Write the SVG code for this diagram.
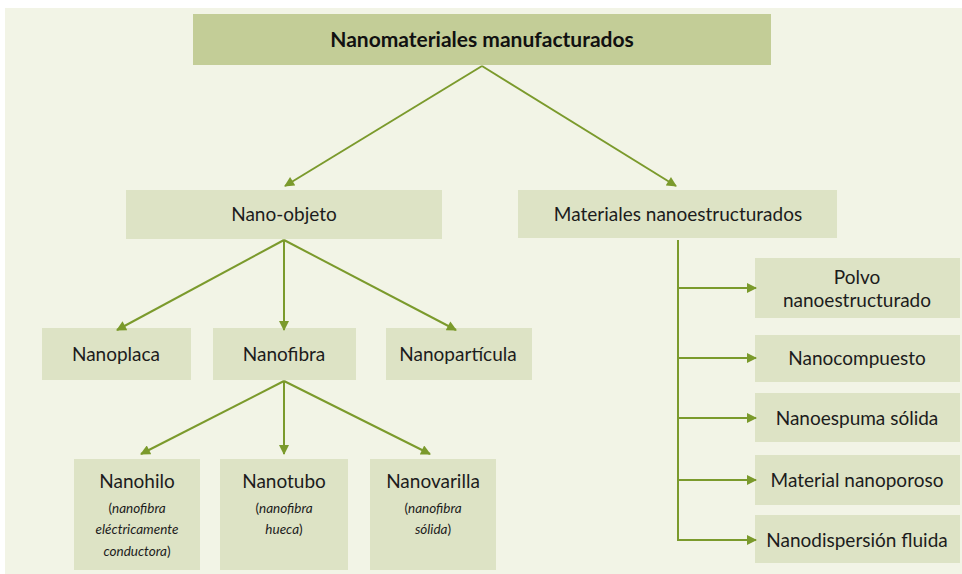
<svg xmlns="http://www.w3.org/2000/svg" width="962" height="574" viewBox="0 0 962 574">
<defs>
<marker id="ah" viewBox="0 0 10 10" refX="9" refY="5" markerWidth="11" markerHeight="10" markerUnits="userSpaceOnUse" orient="auto">
<path d="M0,0 L10,5 L0,10 z" fill="#7b9a2c"/>
</marker>
<style>
.bg{fill:#f2f4e6}
.box{fill:#dde3c5}
.top{fill:#c3cd97}
.t{font-family:Lato,"Open Sans","Liberation Sans",sans-serif;font-size:19px;fill:#1c1c1c;text-anchor:middle}
.tb{font-family:Lato,"Open Sans","Liberation Sans",sans-serif;font-size:21px;font-weight:bold;fill:#111;text-anchor:middle}
.ti{font-family:Lato,"Open Sans","Liberation Sans",sans-serif;font-size:13.5px;font-style:italic;fill:#1c1c1c;text-anchor:middle}
.c{stroke:#7b9a2c;stroke-width:2;fill:none}
.ca{stroke:#7b9a2c;stroke-width:2;fill:none;marker-end:url(#ah)}
</style>
</defs>
<rect x="0" y="0" width="962" height="574" fill="#ffffff"/>
<rect class="bg" x="5" y="8" width="957" height="566"/>

<g id="n-root">
<rect class="top" x="193" y="14" width="578" height="51"/>
<text class="tb" x="482" y="47">Nanomateriales manufacturados</text>
</g>
<g id="n-nanoobjeto">
<rect class="box" x="126" y="190" width="316" height="49"/>
<text class="t" x="284" y="221">Nano-objeto</text>
</g>
<g id="n-materiales">
<rect class="box" x="518" y="190" width="319" height="48"/>
<text class="t" x="678" y="221">Materiales nanoestructurados</text>
</g>
<g id="n-nanoplaca">
<rect class="box" x="42" y="328" width="149" height="52"/>
<text class="t" x="116" y="361">Nanoplaca</text>
</g>
<g id="n-nanofibra">
<rect class="box" x="213" y="328" width="143" height="52"/>
<text class="t" x="284" y="361">Nanofibra</text>
</g>
<g id="n-nanoparticula">
<rect class="box" x="386" y="328" width="146" height="52"/>
<text class="t" x="458" y="361">Nanopartícula</text>
</g>
<g id="n-nanohilo">
<rect class="box" x="74" y="459" width="126" height="111"/>
<text class="t" x="137" y="488">Nanohilo</text>
<text class="ti" x="137" y="513"><tspan font-style="normal">(</tspan>nanofibra</text>
<text class="ti" x="137" y="534">eléctricamente</text>
<text class="ti" x="137" y="556">conductora<tspan font-style="normal">)</tspan></text>
</g>
<g id="n-nanotubo">
<rect class="box" x="220" y="459" width="128" height="111"/>
<text class="t" x="284" y="488">Nanotubo</text>
<text class="ti" x="284" y="513"><tspan font-style="normal">(</tspan>nanofibra</text>
<text class="ti" x="284" y="534">hueca<tspan font-style="normal">)</tspan></text>
</g>
<g id="n-nanovarilla">
<rect class="box" x="370" y="459" width="126" height="111"/>
<text class="t" x="433" y="488">Nanovarilla</text>
<text class="ti" x="433" y="513"><tspan font-style="normal">(</tspan>nanofibra</text>
<text class="ti" x="433" y="534">sólida<tspan font-style="normal">)</tspan></text>
</g>
<g id="n-polvo">
<rect class="box" x="755" y="258" width="205" height="60"/>
<text class="t" x="857" y="284">Polvo</text>
<text class="t" x="857" y="307">nanoestructurado</text>
</g>
<g id="n-nanocompuesto">
<rect class="box" x="755" y="335" width="205" height="47"/>
<text class="t" x="857" y="365">Nanocompuesto</text>
</g>
<g id="n-nanoespuma">
<rect class="box" x="755" y="393" width="205" height="49"/>
<text class="t" x="857" y="425">Nanoespuma sólida</text>
</g>
<g id="n-nanoporoso">
<rect class="box" x="755" y="455" width="205" height="50"/>
<text class="t" x="857" y="487">Material nanoporoso</text>
</g>
<g id="n-nanodispersion">
<rect class="box" x="755" y="515" width="205" height="48"/>
<text class="t" x="857" y="547">Nanodispersión fluida</text>
</g>

<g id="connectors">
<line class="ca" x1="482" y1="66" x2="285" y2="186"/>
<line class="ca" x1="482" y1="66" x2="676" y2="186"/>
<line class="ca" x1="284" y1="240" x2="117" y2="330"/>
<line class="ca" x1="284" y1="240" x2="284" y2="330"/>
<line class="ca" x1="284" y1="240" x2="456" y2="330"/>
<line class="ca" x1="284" y1="381" x2="141" y2="454"/>
<line class="ca" x1="284" y1="381" x2="284" y2="454"/>
<line class="ca" x1="284" y1="381" x2="430" y2="454"/>
<line class="c" x1="678" y1="240" x2="678" y2="541"/>
<line class="ca" x1="677" y1="288" x2="756" y2="288"/>
<line class="ca" x1="677" y1="358" x2="756" y2="358"/>
<line class="ca" x1="677" y1="418" x2="756" y2="418"/>
<line class="ca" x1="677" y1="480" x2="756" y2="480"/>
<line class="ca" x1="677" y1="540" x2="756" y2="540"/>
</g>
</svg>
